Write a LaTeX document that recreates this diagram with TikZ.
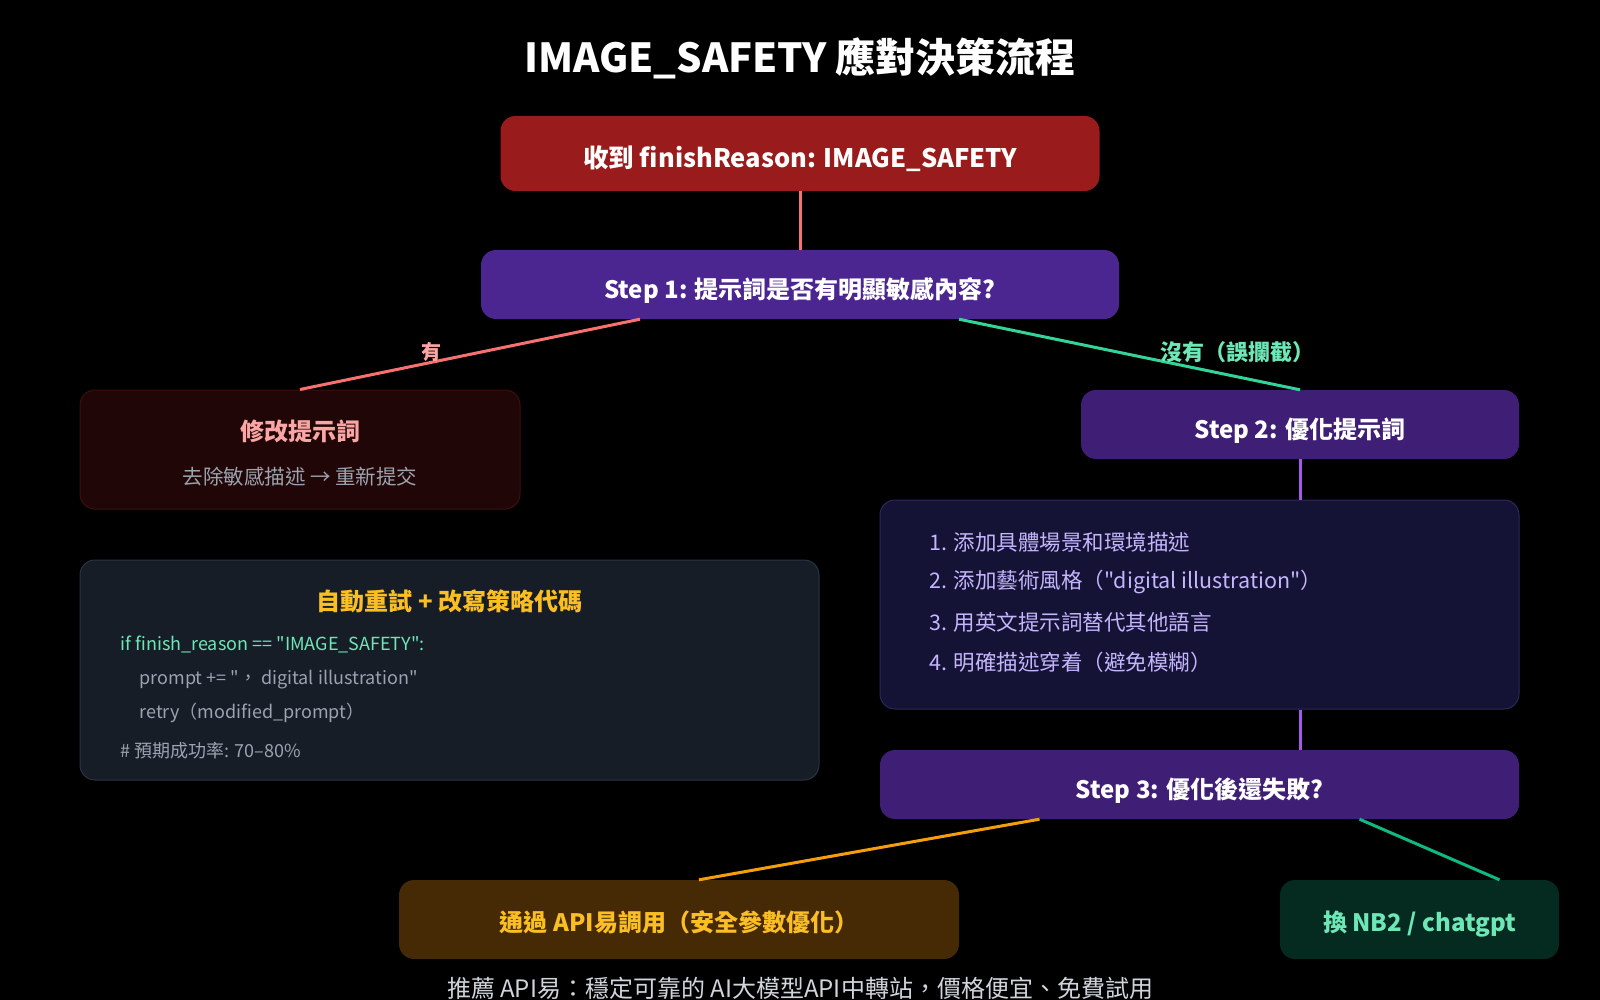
\documentclass[tikz,border=0pt]{standalone}
\usepackage{fontspec}
\setmainfont{Noto Sans CJK TC}
\newfontfamily\mf{Noto Sans CJK TC}
\usetikzlibrary{calc}
\definecolor{bgc}{HTML}{000000}
\definecolor{redbox}{HTML}{991B1B}
\definecolor{stepA}{HTML}{4B2590}
\definecolor{stepB}{HTML}{3F1E75}
\definecolor{listfill}{HTML}{151335}
\definecolor{listline}{HTML}{2C2858}
\definecolor{modfill}{HTML}{200606}
\definecolor{modline}{HTML}{3A1010}
\definecolor{codefill}{HTML}{161D27}
\definecolor{codeline}{HTML}{2A3442}
\definecolor{apifill}{HTML}{462905}
\definecolor{nbfill}{HTML}{052B20}
\definecolor{lred}{HTML}{F87171}
\definecolor{lgreen}{HTML}{34D399}
\definecolor{lpurple}{HTML}{A259EC}
\definecolor{lorange}{HTML}{F59E0B}
\definecolor{lgreen2}{HTML}{10B981}
\definecolor{tpink}{HTML}{FCA5A5}
\definecolor{tmint}{HTML}{6EE7B7}
\definecolor{tgray}{HTML}{9CA3AF}
\definecolor{tlav}{HTML}{C4B5FD}
\definecolor{tamber}{HTML}{FBBF24}
\definecolor{tfoot}{HTML}{D1D5DB}
\tikzset{
  box/.style={rounded corners=15pt, inner sep=0pt, align=center, text height=28.5pt, text depth=0.5pt},
  conn/.style={line width=3pt},
  fs/.style={font=\mf\fontsize{#1}{#1}\selectfont},
  fsb/.style={font=\mf\fontsize{#1}{#1}\selectfont\bfseries},
}
\begin{document}
\begin{tikzpicture}[x=1pt,y=-1pt]
\fill[bgc] (0,0) rectangle (1600,1000);
\useasboundingbox (0,0) rectangle (1600,1000);

\node[fsb=40, text=white] (title) at (800,58) {IMAGE\_SAFETY 應對決策流程};

\node[box, fill=redbox, minimum width=599pt, minimum height=75pt, fsb=25.5, text=white] (n1) at (800,153.5) {收到 finishReason: IMAGE\_SAFETY};

\node[box, fill=stepA, minimum width=638pt, minimum height=69pt, fsb=24, text=white] (s1) at (800,284.5) {Step 1: 提示詞是否有明顯敏感內容?};

\node[box, fill=modfill, draw=modline, line width=1pt, minimum width=440pt, minimum height=119pt] (mod) at (300,449.5) {};
\node[fsb=24, text=tpink] (modt) at (300,431) {修改提示詞};
\node[fs=20.5, text=tgray] (mods) at (300,477) {去除敏感描述 → 重新提交};

\node[box, fill=stepB, minimum width=438pt, minimum height=69pt, fsb=24, text=white] (s2) at (1300,424.5) {Step 2: 優化提示詞};

\node[box, fill=listfill, draw=listline, line width=1pt, minimum width=639pt, minimum height=209pt] (list) at (1199.5,604.5) {};
\node[fs=21.5, text=tlav, anchor=west] (l1) at (926,542) {1. 添加具體場景和環境描述};
\node[fs=21.5, text=tlav, anchor=west] (l2) at (926,582) {2. 添加藝術風格（"digital illustration"）};
\node[fs=21.5, text=tlav, anchor=west] (l3) at (926,622) {3. 用英文提示詞替代其他語言};
\node[fs=21.5, text=tlav, anchor=west] (l4) at (926,662) {4. 明確描述穿着（避免模糊）};

\node[box, fill=stepB, minimum width=639pt, minimum height=69pt, fsb=24, text=white] (s3) at (1199.5,784.5) {Step 3: 優化後還失敗?};

\node[box, fill=codefill, draw=codeline, line width=1pt, minimum width=739pt, minimum height=220pt] (code) at (449.5,670) {};
\node[fsb=24, text=tamber] (codet) at (449.5,601) {自動重試 + 改寫策略代碼};
\node[fs=18, text=tmint, anchor=west] (c1) at (117,644.5) {if finish\_reason == "IMAGE\_SAFETY":};
\node[fs=18, text=tgray, anchor=west] (c2) at (136,679.5) {prompt += "，\ digital illustration"};
\node[fs=18, text=tgray, anchor=west] (c3) at (136,712.5) {retry（modified\_prompt）};
\node[fs=18, text=tgray, anchor=west] (c4) at (117,750.5) {\# 預期成功率: 70–80\%};

\node[box, fill=apifill, minimum width=560pt, minimum height=79pt, fsb=24, text=tamber, text height=25pt] (api) at (679,919.5) {通過 API易調用（安全參數優化）};
\node[box, fill=nbfill, minimum width=279pt, minimum height=79pt, fsb=24, text=tmint, text height=25pt] (nb) at (1419.5,919.5) {換 NB2 / chatgpt};

\node[fs=24, text=tfoot] (foot) at (800,988) {推薦 API易：穩定可靠的 AI大模型API中轉站，價格便宜、免費試用};

% connectors
\draw[conn, lred] (n1.south) -- (s1.north);
\draw[conn, lred] ([xshift=-160pt]s1.south) -- (mod.north);
\draw[conn, lgreen] ([xshift=159pt]s1.south) -- (s2.north);
\draw[conn, lpurple] (s2.south) -- (list.north -| s2.south);
\draw[conn, lpurple] (list.south -| s2.south) -- (s3.north -| s2.south);
\draw[conn, lorange] ([xshift=-160pt]s3.south) -- ([xshift=20pt]api.north);
\draw[conn, lgreen2] ([xshift=160pt]s3.south) -- ([xshift=80pt]nb.north);

\node[fsb=20, text=tpink] (lyes) at (431,352) {有};
\node[fsb=22, text=tmint] (lno) at (1237,352) {沒有（誤攔截）};
\end{tikzpicture}
\end{document}
